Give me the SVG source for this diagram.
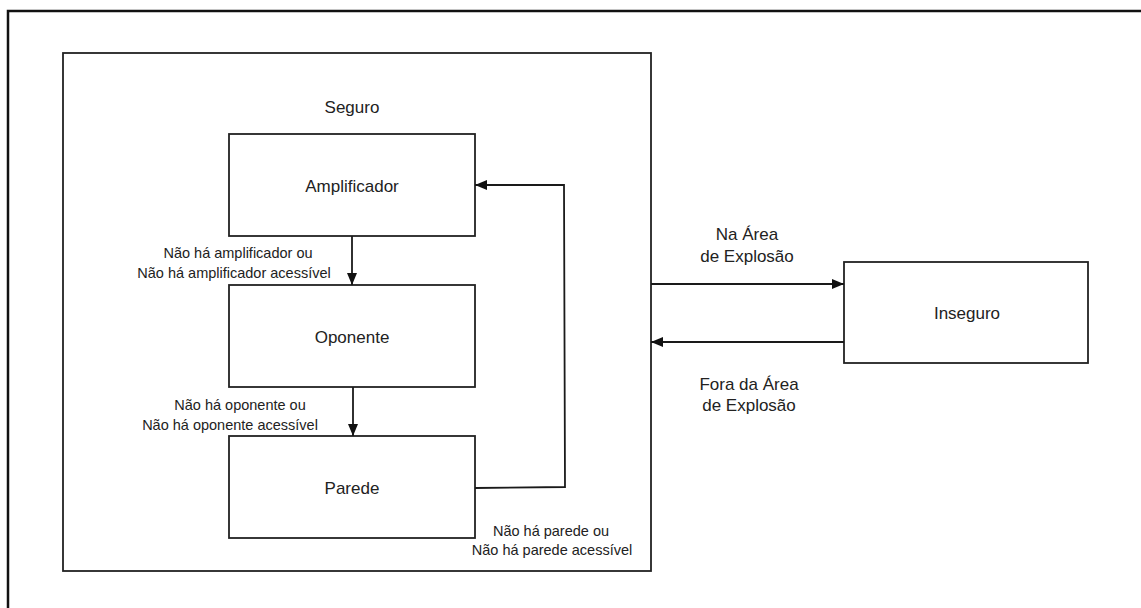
<svg xmlns="http://www.w3.org/2000/svg" width="1141" height="608" viewBox="0 0 1141 608">
  <style>
    .frame { fill: none; stroke: #111; stroke-width: 2.5; }
    .box { fill: #fff; stroke: #222; stroke-width: 1.8; }
    .wire { fill: none; stroke: #1a1a1a; stroke-width: 1.8; }
    .lbl { font-family: "Liberation Sans", Arial, sans-serif; font-size: 17px; fill: #222; text-anchor: middle; }
    .small { font-family: "Liberation Sans", Arial, sans-serif; font-size: 14.5px; fill: #222; text-anchor: middle; }
  </style>
  <defs>
    <marker id="arrow" viewBox="0 0 12 10" refX="12" refY="5" markerWidth="12" markerHeight="10" markerUnits="userSpaceOnUse" orient="auto">
      <path d="M0,0 L12,5 L0,10 Z" fill="#111"/>
    </marker>
  </defs>
  <rect width="1141" height="608" fill="#fff"/>

  <!-- page border -->
  <rect class="frame" x="8" y="11" width="1150" height="620"/>

  <!-- safe-state container -->
  <g id="seguro">
    <rect class="box" x="63" y="53" width="588" height="518"/>
    <text class="lbl" x="352" y="113">Seguro</text>
  </g>

  <g id="amplificador">
    <rect class="box" x="229" y="134" width="246" height="102"/>
    <text class="lbl" x="352" y="192">Amplificador</text>
  </g>

  <g id="oponente">
    <rect class="box" x="229" y="285" width="246" height="102"/>
    <text class="lbl" x="352" y="343">Oponente</text>
  </g>

  <g id="parede">
    <rect class="box" x="229" y="436" width="246" height="102"/>
    <text class="lbl" x="352" y="494">Parede</text>
  </g>

  <g id="inseguro">
    <rect class="box" x="844" y="262" width="244" height="101"/>
    <text class="lbl" x="967" y="319">Inseguro</text>
  </g>

  <!-- transitions -->
  <g id="connectors">
    <line class="wire" x1="352" y1="236" x2="352" y2="285" marker-end="url(#arrow)"/>
    <line class="wire" x1="353" y1="387" x2="353" y2="436" marker-end="url(#arrow)"/>
    <polyline class="wire" points="475,488 565,487 564,185 475,185" marker-end="url(#arrow)"/>
    <line class="wire" x1="651" y1="284" x2="844" y2="284" marker-end="url(#arrow)"/>
    <line class="wire" x1="844" y1="342" x2="651" y2="342" marker-end="url(#arrow)"/>

    <text class="small" x="238" y="258">Não há amplificador ou</text>
    <text class="small" x="234" y="278">Não há amplificador acessível</text>
    <text class="small" x="240" y="410">Não há oponente ou</text>
    <text class="small" x="230" y="430">Não há oponente acessível</text>
    <text class="small" x="551" y="536">Não há parede ou</text>
    <text class="small" x="552" y="555">Não há parede acessível</text>

    <text class="lbl" x="747" y="240">Na Área</text>
    <text class="lbl" x="747" y="262">de Explosão</text>
    <text class="lbl" x="749" y="390">Fora da Área</text>
    <text class="lbl" x="749" y="411">de Explosão</text>
  </g>
</svg>
